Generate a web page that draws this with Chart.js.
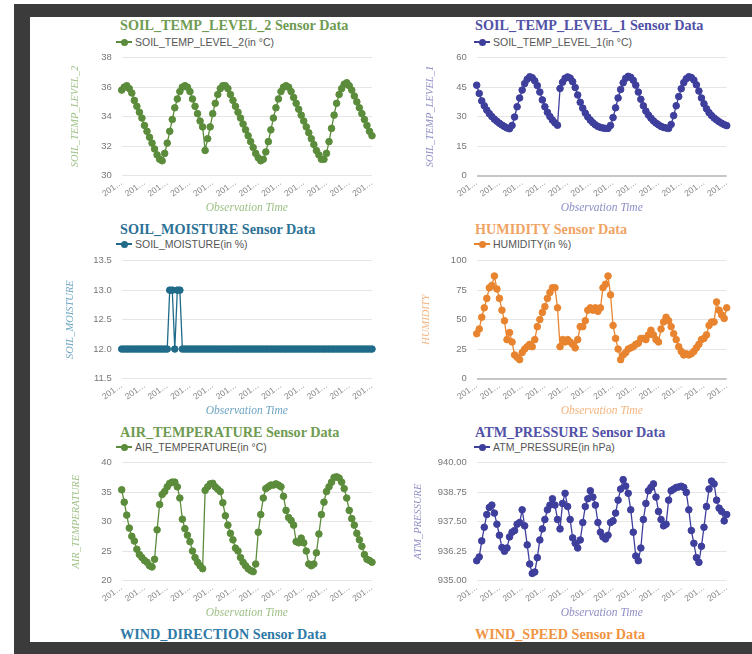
<!DOCTYPE html>
<html>
<head>
<meta charset="utf-8">
<title>Sensor Data</title>
<script src="https://cdn.jsdelivr.net/npm/chart.js@4/dist/chart.umd.min.js"></script>
<style>
  html, body { margin: 0; padding: 0; background: #fff; }
  body { width: 752px; height: 654px; position: relative; overflow: hidden; }
  #frame { position: absolute; left: 14px; top: 4px; right: 0; bottom: 0; background: #3b3b3b; }
  #panel { position: absolute; left: 30px; top: 17px; width: 722px; height: 625px; background: #fff; overflow: hidden; }
  .ttl { position: absolute; font: bold 14.2px "Liberation Serif", "Times New Roman", serif; line-height: 16px; white-space: nowrap; }
  .lgd { position: absolute; font: 10.5px "Liberation Sans", Arial, sans-serif; line-height: 12px; color: #555; white-space: nowrap; display: flex; align-items: center; }
  .lgd i { display: inline-block; position: relative; width: 16px; height: 2px; margin-right: 3px; }
  .lgd i::after { content: ''; position: absolute; left: 4.5px; top: -2.5px; width: 7px; height: 7px; border-radius: 50%; background: inherit; }
  canvas { position: absolute; }
</style>
</head>
<body>
<div id="frame"></div>
<div id="wrap"></div>

<script>
// values (one reading per observation)
var soilTemp2 = [
  35.8, 36.0, 36.1, 35.9, 35.6, 35.1, 34.7, 34.3, 33.9, 33.4,
  33.0, 32.6, 32.2, 31.8, 31.4, 31.1, 31.0, 31.5, 32.2, 33.0,
  33.8, 34.6, 35.2, 35.7, 36.0, 36.1, 36.0, 35.7, 35.2, 34.7,
  34.2, 33.7, 33.3, 31.7, 32.5, 33.3, 34.2, 34.9, 35.5, 35.9,
  36.1, 36.1, 35.9, 35.5, 35.1, 34.7, 34.3, 33.9, 33.5, 33.1,
  32.7, 32.3, 31.9, 31.5, 31.2, 31.0, 31.1, 31.6, 32.3, 33.1,
  33.9, 34.6, 35.2, 35.7, 36.0, 36.1, 36.0, 35.7, 35.3, 34.9,
  34.5, 34.1, 33.7, 33.3, 32.9, 32.5, 32.1, 31.7, 31.4, 31.1,
  31.1, 31.5, 32.3, 33.2, 34.1, 34.9, 35.5, 35.9, 36.2, 36.3,
  36.1, 35.8, 35.4, 35.0, 34.6, 34.2, 33.8, 33.4, 33.0, 32.7
];
var soilTemp1 = [
  46.0, 41.8, 38.0, 35.5, 33.3, 31.5, 30.0, 28.7, 27.6, 26.6,
  25.7, 24.9, 24.2, 23.8, 25.5, 29.8, 35.0, 39.5, 43.5, 46.8,
  49.0, 50.3, 49.8, 48.2, 45.8, 42.5, 38.5, 35.0, 32.2, 30.0,
  28.2, 26.8, 25.6, 44.3, 47.5, 49.5, 50.2, 49.6, 47.8, 44.8,
  41.0, 37.3, 34.3, 31.8, 29.8, 28.2, 26.9, 25.8, 25.0, 24.5,
  24.2, 24.0, 24.0, 25.5, 29.5, 34.5, 39.5, 43.8, 47.2, 49.5,
  50.5, 50.0, 48.5, 46.0, 42.5, 38.8, 35.5, 32.8, 30.8, 29.2,
  27.8, 26.7, 25.8, 25.0, 24.5, 24.2, 24.0, 26.0, 30.5, 35.5,
  40.2, 44.2, 47.3, 49.3, 50.3, 49.9, 48.6, 46.2, 43.0, 39.5,
  36.5, 34.0, 32.0, 30.5, 29.3, 28.3, 27.4, 26.6, 25.9, 25.4
];
var soilMoisture = [
  12, 12, 12, 12, 12, 12, 12, 12, 12, 12,
  12, 12, 12, 12, 12, 12, 12, 12, 12, 13,
  13, 12, 13, 13, 12, 12, 12, 12, 12, 12,
  12, 12, 12, 12, 12, 12, 12, 12, 12, 12,
  12, 12, 12, 12, 12, 12, 12, 12, 12, 12,
  12, 12, 12, 12, 12, 12, 12, 12, 12, 12,
  12, 12, 12, 12, 12, 12, 12, 12, 12, 12,
  12, 12, 12, 12, 12, 12, 12, 12, 12, 12,
  12, 12, 12, 12, 12, 12, 12, 12, 12, 12,
  12, 12, 12, 12, 12, 12, 12, 12, 12, 12
];
var humidity = [
  38, 42, 52, 60, 68, 77, 79, 87, 76, 68,
  58, 49, 33, 39, 31, 20, 18, 16, 22, 25,
  27, 29, 27, 33, 44, 50, 56, 61, 68, 73,
  77, 77, 60, 27, 33, 31, 33, 31, 29, 26,
  33, 44, 44, 49, 58, 60, 58, 60, 57, 60,
  77, 80, 87, 71, 45, 34, 25, 16, 20, 22,
  25, 26, 27, 29, 30, 34, 34, 33, 37, 41,
  37, 33, 31, 42, 48, 52, 49, 44, 38, 33,
  27, 23, 20, 21, 20, 21, 23, 26, 29, 33,
  34, 37, 45, 48, 48, 65, 58, 54, 51, 60
];
var airTemp = [
  35.4, 33.3, 31.1, 28.9, 27.5, 26.7, 25.3, 24.4, 23.9, 23.4,
  23.1, 22.5, 22.3, 23.6, 28.6, 32.9, 34.6, 35.1, 35.9, 36.5,
  36.7, 36.7, 35.9, 34.0, 30.4, 28.8, 27.7, 26.6, 25.0, 23.9,
  23.1, 22.5, 22.0, 35.3, 35.9, 36.4, 36.5, 35.9, 35.5, 35.1,
  33.2, 31.0, 29.4, 28.0, 26.9, 25.5, 25.0, 23.9, 23.1, 22.5,
  22.0, 21.7, 21.5, 22.8, 28.2, 31.2, 34.0, 35.6, 35.9, 36.2,
  36.2, 36.4, 36.2, 35.9, 34.3, 31.9, 30.7, 30.2, 29.4, 26.6,
  26.4, 27.2, 26.4, 25.0, 22.8, 22.5, 22.8, 24.7, 27.9, 31.2,
  33.3, 35.1, 35.9, 36.7, 37.5, 37.6, 37.4, 36.7, 35.6, 34.0,
  31.9, 30.5, 29.4, 28.0, 26.9, 25.8, 24.4, 23.6, 23.4, 23.1
];
var atmPressure = [
  935.84, 936.00, 936.68, 937.26, 937.80, 938.10, 938.20, 937.86, 937.39, 936.92,
  936.40, 936.24, 936.38, 936.85, 937.05, 937.12, 937.39, 937.46, 938.00, 937.32,
  936.51, 935.70, 935.30, 935.36, 935.97, 936.72, 937.19, 937.59, 938.00, 938.20,
  938.47, 938.20, 937.59, 937.19, 938.27, 938.70, 938.14, 937.59, 936.81, 936.58,
  936.38, 936.72, 937.46, 938.14, 938.47, 938.81, 938.54, 938.20, 937.46, 937.05,
  936.85, 936.76, 936.92, 937.46, 937.53, 937.86, 938.41, 938.88, 939.28, 939.01,
  938.70, 938.00, 937.05, 936.04, 935.84, 936.38, 937.59, 938.27, 938.81, 938.95,
  939.10, 938.54, 937.93, 937.59, 937.32, 937.39, 938.41, 938.81, 938.88, 938.95,
  938.97, 939.00, 938.95, 938.74, 938.00, 937.12, 936.58, 935.97, 935.77, 936.45,
  937.26, 938.14, 938.88, 939.22, 939.10, 938.41, 938.07, 937.93, 937.53, 937.80
];

// y tick values per chart
var soilTemp2Ticks = [30, 32, 34, 36, 38];
var soilTemp1Ticks = [0, 15, 30, 45, 60];
var soilMoistureTicks = [11.5, 12, 12.5, 13, 13.5];
var humidityTicks = [0, 25, 50, 75, 100];
var airTempTicks = [20, 25, 30, 35, 40];
var atmPressureTicks = [935, 936.25, 937.5, 938.75, 940];

// observation times, hourly with one gap in the log
var obsTimes = [];
var t = Date.UTC(2018, 3, 10, 11);
for (var k = 0; k < soilTemp2.length; k++) {
  if (k === 33) t += 12 * 3600e3;
  obsTimes.push(new Date(t).toISOString().slice(0, 16).replace('T', ' '));
  t += 3600e3;
}

var panels = [
  { row: 0, col: 0, name: 'SOIL_TEMP_LEVEL_2', unit: '(in °C)', data: soilTemp2, ticks: soilTemp2Ticks, dec: 0,
    color: '#5b8c3b', head: '#6f9b52', light: '#9dbf85', yTitleX: 75 },
  { row: 0, col: 1, name: 'SOIL_TEMP_LEVEL_1', unit: '(in °C)', data: soilTemp1, ticks: soilTemp1Ticks, dec: 0,
    color: '#3e3e9c', head: '#5151a6', light: '#8d8dc6', yTitleX: 430 },
  { row: 1, col: 0, name: 'SOIL_MOISTURE', unit: '(in %)', data: soilMoisture, ticks: soilMoistureTicks, dec: 1,
    color: '#1f6b89', head: '#2c7196', light: '#6ba4c1', yTitleX: 70 },
  { row: 1, col: 1, name: 'HUMIDITY', unit: '(in %)', data: humidity, ticks: humidityTicks, dec: 0,
    color: '#e8842f', head: '#f0a464', light: '#f2b47e', yTitleX: 426 },
  { row: 2, col: 0, name: 'AIR_TEMPERATURE', unit: '(in °C)', data: airTemp, ticks: airTempTicks, dec: 0,
    color: '#5b8c3b', head: '#6f9b52', light: '#9dbf85', yTitleX: 76 },
  { row: 2, col: 1, name: 'ATM_PRESSURE', unit: '(in hPa)', data: atmPressure, ticks: atmPressureTicks, dec: 2,
    color: '#3e3e9c', head: '#5151a6', light: '#8d8dc6', yTitleX: 418 }
];

// page geometry
var colLeft = [40, 395], colRight = [380, 735];
var plotLeft = [121.7, 476.7], plotRight = [373.3, 726.7];
var plotTop = [52, 255, 457];
var titleY = [25, 228.5, 431.5, 633.5];
var legendY = [42.3, 244.3, 447.3];
var headLeft = [120, 475], legendLeft = [116, 474];

var wrap = document.getElementById('wrap');
var panelBg = document.createElement('div');
panelBg.id = 'panel';
wrap.appendChild(panelBg);

function addTitle(text, color, col, row) {
  var d = document.createElement('div');
  d.className = 'ttl';
  d.textContent = text;
  d.style.color = color;
  d.style.left = headLeft[col] + 'px';
  d.style.top = (titleY[row] - 8) + 'px';
  wrap.appendChild(d);
}

Chart.defaults.font.family = '"Liberation Sans", Arial, sans-serif';

panels.forEach(function (p) {
  addTitle(p.name + ' Sensor Data', p.head, p.col, p.row);

  var lg = document.createElement('div');
  lg.className = 'lgd';
  lg.style.left = legendLeft[p.col] + 'px';
  lg.style.top = (legendY[p.row] - 6) + 'px';
  var ic = document.createElement('i');
  ic.style.background = p.color;
  lg.appendChild(ic);
  lg.appendChild(document.createTextNode(p.name + p.unit));
  wrap.appendChild(lg);

  var cv = document.createElement('canvas');
  var cl = colLeft[p.col];
  cv.width = 340; cv.height = 176;
  cv.style.left = cl + 'px';
  cv.style.top = (plotTop[p.row] - 10) + 'px';
  wrap.appendChild(cv);

  var yFont = 10.5, xFont = 11.5;
  new Chart(cv.getContext('2d'), {
    type: 'line',
    data: {
      labels: obsTimes,
      datasets: [{
        label: p.name + p.unit,
        data: p.data,
        borderColor: p.color,
        backgroundColor: p.color,
        borderWidth: 1.3,
        pointRadius: 3.3,
        pointBorderWidth: 1,
        tension: 0,
        fill: false
      }]
    },
    options: {
      responsive: false,
      animation: false,
      devicePixelRatio: 1,
      layout: { padding: { top: 10, left: 0, right: colRight[p.col] - plotRight[p.col], bottom: 0 } },
      plugins: { legend: { display: false }, title: { display: false }, tooltip: { enabled: false } },
      scales: {
        x: {
          grid: { display: false, drawTicks: false },
          border: { display: false },
          ticks: {
            autoSkip: false, minRotation: 36, maxRotation: 36, padding: 2,
            color: '#888', font: { size: 8.5 },
            callback: function (v, i) {
              return i % 9 === 0 ? this.getLabelForValue(v).slice(0, 3) + '…' : null;
            }
          },
          title: { display: true, text: 'Observation Time', color: p.light,
            font: { family: '"Liberation Serif", serif', size: xFont, style: 'italic' },
            padding: { top: 0, bottom: 10 - xFont * 0.6 } },
          afterFit: function (s) { s.height = 42.5; }
        },
        y: {
          min: p.ticks[0],
          max: p.ticks[p.ticks.length - 1],
          afterBuildTicks: function (s) { s.ticks = p.ticks.map(function (v) { return { value: v }; }); },
          grid: {
            drawTicks: false,
            color: function (c) { return c.tick && c.tick.value === 0 ? '#c6c6c6' : 'rgba(0,0,0,0.1)'; },
            lineWidth: function (c) { return c.tick && c.tick.value === 0 ? 2 : 1; }
          },
          border: { display: false },
          ticks: { padding: 10, color: '#777', font: { size: 9.5 },
            callback: function (v) { return Number(v).toFixed(p.dec); } },
          title: { display: true, text: p.name, color: p.light,
            font: { family: '"Liberation Serif", serif', size: yFont, style: 'italic' },
            padding: { top: p.yTitleX - cl - yFont * 0.6, bottom: 0 } },
          afterFit: function (s) { s.width = plotLeft[p.col] - colLeft[p.col]; }
        }
      }
    }
  });
});

// next row of the dashboard, cut off by the panel edge
addTitle('WIND_DIRECTION Sensor Data', '#2e79a6', 0, 3);
addTitle('WIND_SPEED Sensor Data', '#f09444', 1, 3);
</script>
</body>
</html>
